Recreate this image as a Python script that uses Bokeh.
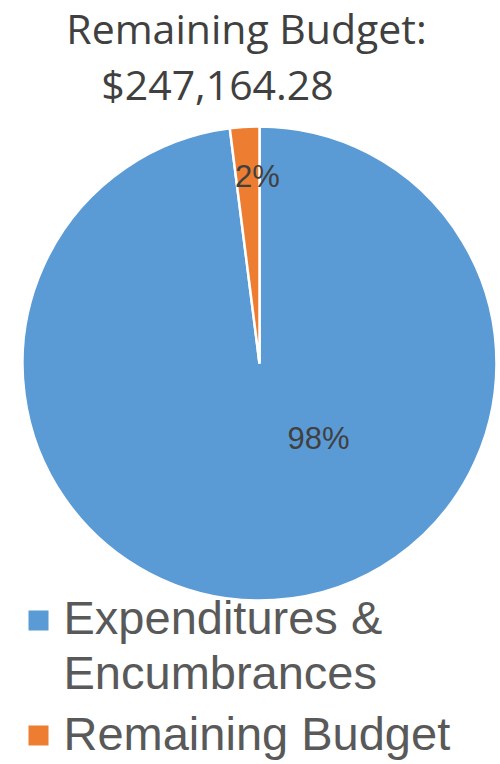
import math
from bokeh.plotting import figure
from bokeh.models import Range1d, ColumnDataSource
from bokeh.core.properties import value
from bokeh.embed import file_html
from bokeh.resources import INLINE

# ---- data ----
categories = ["Expenditures & Encumbrances", "Remaining Budget"]
shares = [98, 2]
pct_labels = ["98%", "2%"]
title_lines = ["Remaining Budget:", "$247,164.28"]
legend_lines = [["Expenditures &", "Encumbrances"], ["Remaining Budget"]]
colors = ["#5B9BD5", "#ED7D31"]

W, H = 500, 764
p = figure(width=W, height=H, output_backend="svg", toolbar_location=None,
           x_range=Range1d(0, W), y_range=Range1d(0, H), min_border=0)
p.axis.visible = False
p.grid.visible = False
p.outline_line_color = None
p.background_fill_color = "white"
p.border_fill_color = "white"

def Y(py):
    return H - py

def TB(py, fs):
    # baseline correction for the text renderer
    return Y(py - 0.38 * fs)

# pie geometry (pixel space)
cx, cy, r = 259, 363, 237
total = sum(shares)
starts, ends = [], []
cum = 0.0
for v in shares:
    a0 = 90 - (cum + v) / total * 360
    a1 = 90 - cum / total * 360
    starts.append(math.radians(a0))
    ends.append(math.radians(a1))
    cum += v

src = ColumnDataSource(dict(x=[cx] * len(shares), y=[Y(cy)] * len(shares),
                            start=starts, end=ends, color=colors, cat=categories))
p.wedge(x="x", y="y", radius=r, start_angle="start", end_angle="end",
        fill_color="color", line_color="white", line_width=2.5, source=src)

# data labels
fs_lab = 31
label_pos = [(318, 450), (257, 188)]
p.text(x=[lp[0] for lp in label_pos], y=[TB(lp[1], fs_lab) for lp in label_pos], text=pct_labels,
       text_font=value("Liberation Sans"), text_font_size=f"{fs_lab}px", text_color="#404040",
       text_align="center", text_baseline="alphabetic")

# title
fs_t = 41
p.text(x=[246, 217], y=[TB(43, fs_t), TB(99, fs_t)], text=title_lines,
       text_font=value("Open Sans"), text_font_size=f"{fs_t}px", text_color="#404040",
       text_align="center", text_baseline="alphabetic")

# legend
fs_l = 47
sq_y = [620, 735]
p.scatter(x=[38, 38], y=[Y(v) for v in sq_y], marker="square", size=20,
          fill_color=colors, line_color=None)
leg_text, leg_y = [], []
baselines = [[635, 690], [751]]
for lines, bls in zip(legend_lines, baselines):
    for t, b in zip(lines, bls):
        leg_text.append(t)
        leg_y.append(TB(b, fs_l))
p.text(x=[63] * len(leg_text), y=leg_y, text=leg_text,
       text_font=value("Liberation Sans"), text_font_size=f"{fs_l}px", text_color="#595959",
       text_align="left", text_baseline="alphabetic")

open("out.html", "w").write(file_html(p, INLINE))
